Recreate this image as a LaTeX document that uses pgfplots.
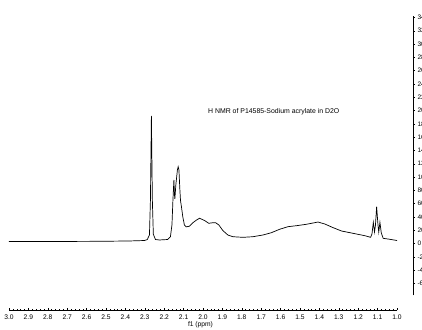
\documentclass[border=0pt]{standalone}
\usepackage{fontspec}
\setmainfont{Liberation Sans}
\usepackage{pgfplots}
\pgfplotsset{compat=1.18}
\begin{document}
\begin{tikzpicture}[x=1pt,y=1pt]
\useasboundingbox (0,0) rectangle (422,329);
% spectrum + x axis
\begin{axis}[
  at={(9pt,19pt)}, anchor=south west,
  scale only axis, width=388pt, height=293.9pt,
  xmin=1.0, xmax=3.0, ymin=-100, ymax=342,
  x dir=reverse,
  axis x line*=bottom, axis y line=none,
  xtick={1.0,1.1,...,3.05},
  minor x tick num=4,
  tick align=inside,
  major tick length=2pt, minor tick length=1pt,
  every tick/.style={black, line width=0.4pt},
  axis line style={black, line width=0.5pt, -},
  xticklabel style={font=\fontsize{6.7}{7}\selectfont, yshift=-1.5pt},
  /pgf/number format/.cd, fixed, fixed zerofill, precision=1, assume math mode=true,
  /pgfplots/.cd,
  xlabel={f1 (ppm)},
  xlabel style={font=\fontsize{6.7}{7}\selectfont, at={(axis description cs:0.4935,0)}, anchor=center, yshift=-15pt},
  clip=false,
]
\addplot[black, line width=0.7pt, sharp plot, mark=none] coordinates {
(3.000,3.0) (2.793,3.0) (2.535,3.3) (2.380,3.8) (2.302,4.5) (2.287,6)
(2.276,13) (2.271,65) (2.266,192) (2.261,65) (2.256,14) (2.245,6)
(2.225,5.3) (2.183,6) (2.168,10) (2.160,28) (2.155,65) (2.150,95.5)
(2.147,73) (2.145,67) (2.140,88) (2.132,110.5) (2.128,115.5) (2.124,110.5)
(2.119,80) (2.116,65) (2.111,55) (2.104,40) (2.096,28) (2.087,25)
(2.070,26) (2.053,31) (2.035,35) (2.018,38) (1.992,34.6) (1.970,30.4)
(1.949,31.3) (1.935,31.3) (1.918,27.8) (1.898,19.6) (1.872,12.8) (1.846,10.2)
(1.794,9.3) (1.743,10.2) (1.691,12.8) (1.648,16.2) (1.605,21.4) (1.562,25.3)
(1.518,26.8) (1.467,28.9) (1.407,32.3) (1.372,29.3) (1.329,23.8) (1.286,18.8)
(1.226,15.3) (1.165,11.7) (1.136,9.3) (1.129,14.3) (1.122,31.9) (1.116,17.3)
(1.111,27.8) (1.105,55.3) (1.098,27.8) (1.094,17.3) (1.088,31.9) (1.081,15.8)
(1.071,7.8) (1.036,6.3) (1.000,4.5)
};
\end{axis}
% y axis on the right
\begin{axis}[
  at={(403pt,33.6pt)}, anchor=south west,
  scale only axis, width=10pt, height=279.3pt,
  xmin=0, xmax=1, ymin=-78, ymax=342,
  axis x line=none, axis y line*=right,
  ytick={-60,-40,...,340},
  minor y tick num=3,
  tick align=outside,
  major tick length=2pt, minor tick length=1pt,
  every tick/.style={black, line width=0.4pt},
  axis line style={black, line width=0.5pt, -},
  yticklabel style={font=\fontsize{6.5}{7}\selectfont, xshift=-1pt},
  /pgf/number format/assume math mode=true,
]
\addplot[draw=none] coordinates {(0,0)};
\end{axis}
\node[anchor=west, font=\fontsize{6.9}{7}\selectfont, inner sep=0pt] at (208,217) {H NMR of P14585-Sodium acrylate in D2O};
\end{tikzpicture}
\end{document}
